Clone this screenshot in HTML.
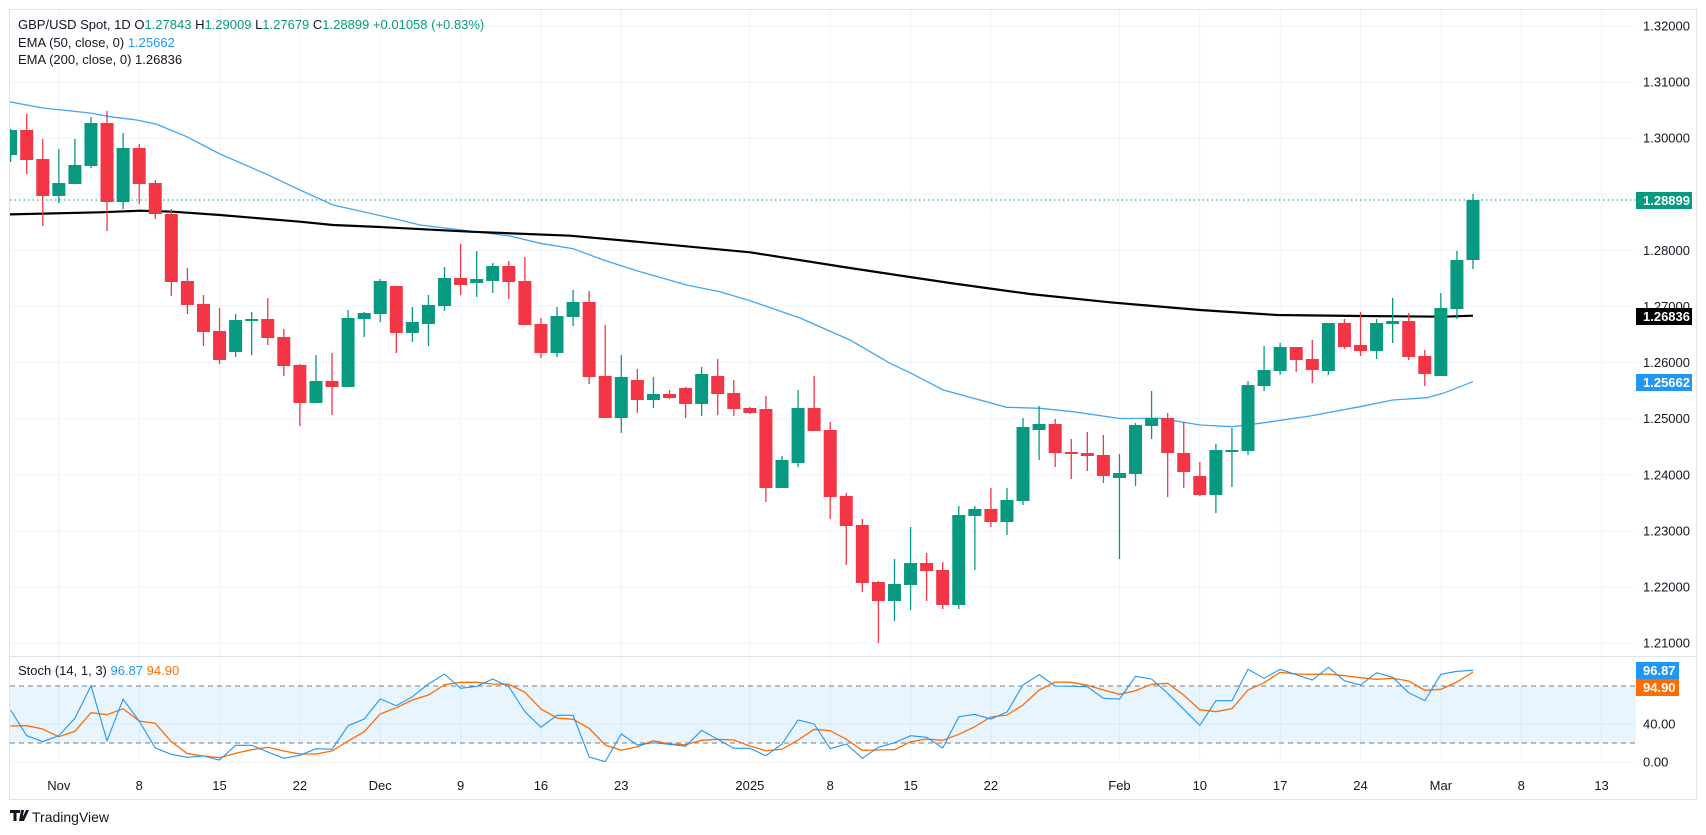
<!DOCTYPE html>
<html><head><meta charset="utf-8"><style>
html,body{margin:0;padding:0;background:#fff;}
body{width:1706px;height:835px;overflow:hidden;position:relative;font-family:"Liberation Sans",sans-serif;}
svg{position:absolute;left:0;top:0;}
</style></head><body>
<svg id="s" width="1706" height="835" xmlns="http://www.w3.org/2000/svg" font-family="Liberation Sans, sans-serif"></svg>
<script>
var s=document.getElementById('s');var h='';
var X0=10,X1=1636,Y0=10,PY1=656,SY1=762;
function xk(k){return 26.7+16.07*k;}
// border
h+='<rect x="9.5" y="9.5" width="1687" height="790" fill="none" stroke="#e0e3eb"/>';
// main grid
var prices=['1.32000','1.31000','1.30000','1.29000','1.28000','1.27000','1.26000','1.25000','1.24000','1.23000','1.22000','1.21000'];
for(var i=0;i<12;i++){var y=26+i*56.1;h+='<line x1="'+X0+'" x2="'+X1+'" y1="'+y+'" y2="'+y+'" stroke="#f0f3fa"/>';}
var vk=[2,7,12,17,22,27,32,37,45,50,55,60,68,73,78,83,88,93,98];
var vl=['Nov','8','15','22','Dec','9','16','23','2025','8','15','22','Feb','10','17','24','Mar','8','13'];
vk.forEach(function(k){var x=xk(k);h+='<line x1="'+x+'" x2="'+x+'" y1="'+Y0+'" y2="'+SY1+'" stroke="#f0f3fa"/>';});
// stoch grid
[724,762].forEach(function(y){h+='<line x1="'+X0+'" x2="'+X1+'" y1="'+y+'" y2="'+y+'" stroke="#f0f3fa"/>';});
h+='<rect x="'+X0+'" y="686" width="'+(X1-X0)+'" height="57" fill="rgba(33,150,243,0.1)"/>';
h+='<line x1="'+X0+'" x2="'+X1+'" y1="686" y2="686" stroke="#787b86" stroke-dasharray="5,4"/>';
h+='<line x1="'+X0+'" x2="'+X1+'" y1="743" y2="743" stroke="#787b86" stroke-dasharray="5,4"/>';
h+='<line x1="10" x2="1696" y1="656.5" y2="656.5" stroke="#e0e3eb"/>';
// clip
h+='<defs><clipPath id="c"><rect x="10" y="10" width="1626" height="646"/></clipPath><clipPath id="c2"><rect x="10" y="657" width="1626" height="105"/></clipPath></defs>';
// EMAs
var black=[[5,214.5],[100,212.3],[140,210.7],[173,211.7],[220,215],[300,221.7],[333,225],[380,227],[470,231.7],[570,235.7],[636.7,241.7],[750,252.3],[850,268],[950,283],[1030,294],[1110,302.3],[1200,310],[1276.7,315],[1360,316],[1443,316.7],[1473,315.7]];
var blue=[[5,101],[43,108],[90,113],[110,116.7],[136.7,120],[156.7,124.3],[186.7,136.7],[220,154],[266.7,174.3],[300,190],[333,205],[370,213.3],[396.7,219.3],[420,225],[470,231],[510,236],[540,243.3],[573.3,248.7],[603.3,260],[636.7,270.7],[686.7,285],[720,291.7],[750,300.7],[800,318],[850,340],[890,363.3],[910,372.7],[943.3,390],[1006.7,407.3],[1040,408.3],[1073,411.7],[1120,418.5],[1160,418.3],[1200,425],[1232,426.7],[1260,423.3],[1310,416],[1360,406.7],[1393,400],[1426.7,397.7],[1443,393.3],[1473,381.7]];
function pl(a){return a.map(function(p){return p[0]+','+p[1];}).join(' ');}
h+='<g clip-path="url(#c)">';
h+='<polyline points="'+pl(blue)+'" fill="none" stroke="#42a5f5" stroke-width="1.3"/>';
h+='<polyline points="'+pl(black)+'" fill="none" stroke="#000" stroke-width="2.2"/>';
h+='<line x1="10" x2="1636" y1="200" y2="200" stroke="#089981" stroke-dasharray="1.5,3"/>';
// candles [O,H,L,C] from k=-1
var d=[[155,129,162,130],[130,114,174,160],[159,139,226,196],[196,149,203,183],[184,139,184,165],[166,117,168,123],[123,111,231,202],[202,133,209,148],[148,144,204,184],[183,180,219,214],[214,209,296,282],[281,268,314,305],[304,295,346,332],[331,308,364,360],[352,314,357,320],[321,312,355,319],[319,298,345,338],[337,329,376,366],[365,364,426,403],[403,355,403,381],[381,353,415,387],[387,310,387,318],[319,312,337,313],[314,279,322,281],[286,286,353,333],[333,307,342,322],[324,295,346,305],[306,267,311,278],[278,244,295,285],[283,251,297,279],[281,263,293,266],[266,261,299,282],[281,257,325,325],[324,318,358,353],[353,307,357,316],[317,290,326,302],[302,291,384,377],[376,325,418,418],[418,355,433,377],[380,369,413,400],[400,377,408,394],[394,390,399,398],[388,387,418,404],[404,367,416,374],[376,359,415,394],[393,380,416,409],[408,407,414,413],[409,396,502,488],[488,456,488,460],[463,390,467,408],[408,376,431,431],[430,422,519,497],[496,493,565,526],[525,519,592,583],[582,581,643,601],[601,559,621,584],[585,527,610,563],[563,553,601,571],[570,562,609,605],[605,506,609,515],[516,506,570,509],[509,488,527,522],[522,488,535,500],[501,418,505,427],[430,406,460,424],[424,419,467,453],[452,439,479,454],[453,432,471,456],[455,435,483,476],[478,454,559,473],[474,423,486,425],[426,391,439,418],[418,413,497,453],[453,422,488,472],[476,462,496,495],[495,444,513,450],[451,428,487,450],[451,381,455,385],[386,346,391,370],[371,343,375,347],[347,347,372,360],[359,340,383,370],[371,323,375,323],[323,319,349,347],[345,312,356,351],[351,319,359,323],[324,298,343,321],[321,313,360,357],[356,350,386,374],[376,293,376,308],[309,251,319,260],[260,194,269,200]];
d.forEach(function(c,i){var k=i-1,x=xk(k),o=c[0],hi=c[1],lo=c[2],cl=c[3];var up=cl<=o;var col=up?'#089981':'#f23645';
var t=Math.min(o,cl),b=Math.max(o,cl);if(b-t<2){b=t+2;}
h+='<line x1="'+x+'" x2="'+x+'" y1="'+hi+'" y2="'+lo+'" stroke="'+col+'" stroke-width="1.3"/>';
h+='<rect x="'+(x-6.5)+'" y="'+t+'" width="13" height="'+(b-t)+'" fill="'+col+'"/>';});
h+='</g>';
// stoch
function sy(z){return 650+z/3;}
var K=[710,735.7,741.7,735.7,718.3,685.7,740.7,699.3,721,748,754.3,757.3,756,760,745.3,745.3,752,758.3,755.3,748.7,749.3,725.7,719,699,705.7,696.7,684,674,688.3,686.3,679,686.7,711.7,727.3,715.3,715.3,757,761.7,734,745,742.7,744.3,746.3,730.3,739.3,748.3,748.3];
var Kz=[317,282,210,222,296,282,325,292,278,257,262,294,200,193,207,186,105,74,108,109,110,145,147,79,87,130,178,226,152,152,58,85,58,74,90,52,92,105,68,82,128,152,73,64,61];
K=K.concat(Kz.map(sy));
var D=[726,725.7,729,736.7,731.3,712.7,714.7,708.7,721,723.3,741.7,753.7,756,757.7,753.3,749.7,747.3,751,754,754,751,741,731.7,714,707.7,700,695,684.7,682.3,682.3,684,684.3,692.3,709,718,719.3,728.3,745,750.3,746.7,740.7,744,744.7,740.3,739.3,740,746];
var Dz=[302,298,270,238,242,268,301,300,299,275,267,271,253,230,201,195,165,120,96,97,106,120,133,122,103,100,135,179,185,176,120,98,67,72,73,72,77,83,88,85,93,121,118,96,66];
D=D.concat(Dz.map(sy));
function spl(a){return a.map(function(y,i){return xk(i-1).toFixed(1)+','+y.toFixed(1);}).join(' ');}
h+='<g clip-path="url(#c2)"><polyline points="'+spl(D)+'" fill="none" stroke="#ff6d00" stroke-width="1.3"/><polyline points="'+spl(K)+'" fill="none" stroke="#2196f3" stroke-width="1.1"/></g>';
// price axis labels
for(var i=0;i<12;i++){var y=26+i*56.1;if(i==3)continue;h+='<text x="1643" y="'+(y+4.5)+'" font-size="13" fill="#131722">'+prices[i]+'</text>';}
h+='<text x="1643" y="728.5" font-size="13" fill="#131722">40.00</text><text x="1643" y="766.5" font-size="13" fill="#131722">0.00</text>';
function box(y,col,txt,w){h+='<rect x="1636" y="'+y+'" width="'+w+'" height="17" fill="'+col+'"/><text x="1643" y="'+(y+13)+'" font-size="13" font-weight="bold" fill="#fff">'+txt+'</text>';}
box(192,'#089981','1.28899',56);box(308,'#000','1.26836',56);box(374,'#2196f3','1.25662',56);
box(662,'#2196f3','96.87',43);box(679,'#ff6d00','94.90',43);
// time labels
vk.forEach(function(k,i){h+='<text x="'+xk(k)+'" y="790" font-size="13" fill="#131722" text-anchor="middle">'+vl[i]+'</text>';});
// legend
var g='#089981';
h+='<text x="18" y="29" font-size="13" fill="#131722">GBP/USD Spot, 1D  <tspan>O</tspan><tspan fill="'+g+'">1.27843</tspan>  H<tspan fill="'+g+'">1.29009</tspan>  L<tspan fill="'+g+'">1.27679</tspan>  C<tspan fill="'+g+'">1.28899</tspan> <tspan fill="'+g+'">+0.01058 (+0.83%)</tspan></text>';
h+='<text x="18" y="47" font-size="13" fill="#131722">EMA (50, close, 0)  <tspan fill="#2196f3">1.25662</tspan></text>';
h+='<text x="18" y="64" font-size="13" fill="#131722">EMA (200, close, 0)  1.26836</text>';
h+='<text x="18" y="675" font-size="13" fill="#131722">Stoch (14, 1, 3)  <tspan fill="#2196f3">96.87</tspan>  <tspan fill="#ff6d00">94.90</tspan></text>';
// logo
h+='<path d="M10 810h10v3h-3.5v8h-3v-8H10z M21 810h3l-2 11h-3z M26 810l3 0 -5 11h-3z" fill="#131722"/>';
h+='<text x="32" y="822" font-size="14" fill="#131722">TradingView</text>';
s.innerHTML=h;
</script>
</body></html>
